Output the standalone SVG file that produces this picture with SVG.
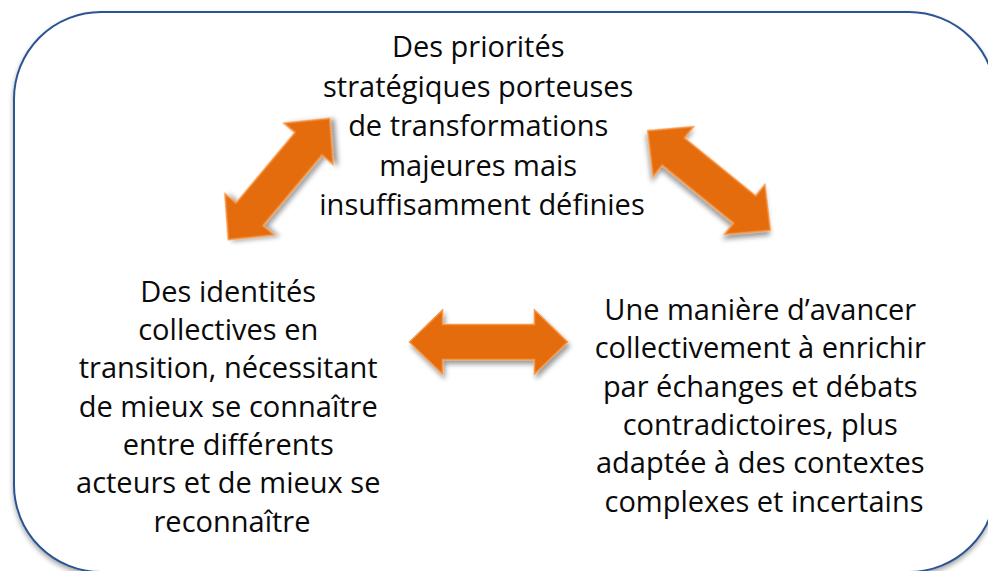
<svg xmlns="http://www.w3.org/2000/svg" width="988" height="571" viewBox="0 0 988 571">
  <defs>
    <filter id="boxShadow" x="-5%" y="-5%" width="110%" height="115%">
      <feGaussianBlur in="SourceAlpha" stdDeviation="2.5"/>
      <feOffset dx="0" dy="3" result="b"/>
      <feComponentTransfer><feFuncA type="linear" slope="0.35"/></feComponentTransfer>
      <feMerge><feMergeNode/><feMergeNode in="SourceGraphic"/></feMerge>
    </filter>
    <filter id="arrowShadow" x="-20%" y="-20%" width="150%" height="150%">
      <feGaussianBlur in="SourceAlpha" stdDeviation="2.5"/>
      <feOffset dx="2" dy="4" result="b"/>
      <feComponentTransfer><feFuncA type="linear" slope="0.4"/></feComponentTransfer>
      <feMerge><feMergeNode/><feMergeNode in="SourceGraphic"/></feMerge>
    </filter>
    <polygon id="dblArrow" points="-79,0 -46,-32 -46,-17.5 46,-17.5 46,-32 79,0 46,32 46,17.5 -46,17.5 -46,32"/>
  </defs>
  <style>
    .frame { fill: #ffffff; stroke: #2B5492; stroke-width: 2; }
    .arrow { fill: #E46C0A; stroke: #F79646; stroke-width: 1.5; stroke-linejoin: miter; }
    .label { font-family: "Open Sans", "Noto Sans", "Liberation Sans", sans-serif; font-size: 29px; fill: #0a0a0a; text-anchor: middle; }
  </style>

  <rect class="frame" x="14" y="12" width="982" height="560" rx="87" ry="87" filter="url(#boxShadow)"/>

  <g id="connectors">
    <use href="#dblArrow" class="arrow" filter="url(#arrowShadow)" transform="translate(279,179) rotate(-50.1)"/>
    <use href="#dblArrow" class="arrow" filter="url(#arrowShadow)" transform="translate(709,180.5) rotate(39.1)"/>
    <use href="#dblArrow" class="arrow" filter="url(#arrowShadow)" transform="translate(488.5,342)"/>
  </g>

  <g id="node-priorites">
    <text class="label">
      <tspan x="482" y="57">Des priorités</tspan>
      <tspan x="482" y="97">stratégiques porteuses</tspan>
      <tspan x="482" y="136">de transformations</tspan>
      <tspan x="482" y="176">majeures mais</tspan>
      <tspan x="482" y="215">insuffisamment définies</tspan>
    </text>
  </g>

  <g id="node-identites">
    <text class="label">
      <tspan x="232" y="302">Des identités</tspan>
      <tspan x="232" y="340">collectives en</tspan>
      <tspan x="232" y="378">transition, nécessitant</tspan>
      <tspan x="232" y="417">de mieux se connaître</tspan>
      <tspan x="232" y="455">entre différents</tspan>
      <tspan x="232" y="493">acteurs et de mieux se</tspan>
      <tspan x="232" y="532">reconnaître</tspan>
    </text>
  </g>

  <g id="node-maniere">
    <text class="label">
      <tspan x="764" y="320">Une manière d’avancer</tspan>
      <tspan x="764" y="358">collectivement à enrichir</tspan>
      <tspan x="764" y="397">par échanges et débats</tspan>
      <tspan x="764" y="435">contradictoires, plus</tspan>
      <tspan x="764" y="473">adaptée à des contextes</tspan>
      <tspan x="764" y="512">complexes et incertains</tspan>
    </text>
  </g>
</svg>
